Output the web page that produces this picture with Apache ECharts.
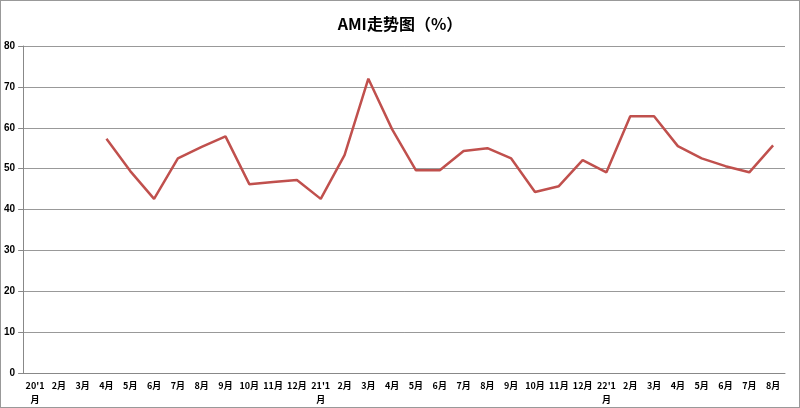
<!DOCTYPE html><html><head><meta charset="utf-8"><script src="https://cdn.jsdelivr.net/npm/echarts@6/dist/echarts.min.js"></script></head><body style="margin:0"><div id="c" style="width:800px;height:408px;box-sizing:border-box;border:1px solid #999"></div><script>
const categories=["20'1\n月","2月","3月","4月","5月","6月","7月","8月","9月","10月","11月","12月","21'1\n月","2月","3月","4月","5月","6月","7月","8月","9月","10月","11月","12月","22'1\n月","2月","3月","4月","5月","6月","7月","8月"];
const values=[null,null,null,57.3,49.4,42.6,52.5,55.3,57.9,46.2,46.7,47.2,42.6,53.3,72,59.6,49.6,49.6,54.3,55,52.5,44.3,45.7,52.1,49.1,62.8,62.8,55.5,52.5,50.6,49.1,55.7];
const c=echarts.init(document.getElementById('c'));
c.setOption({animation:false,
title:{text:'AMI走势图（%）',left:'center',top:10,textStyle:{fontSize:16,fontWeight:'bold',color:'#000',fontFamily:'Noto Sans CJK SC'}},
grid:{left:21,right:14,top:45,bottom:30},
xAxis:{type:'category',data:categories,boundaryGap:true,axisLine:{lineStyle:{color:'#888'}},axisTick:{lineStyle:{color:'#888'}},axisLabel:{interval:0,margin:6,fontSize:9,fontWeight:'bold',color:'#000',lineHeight:14,fontFamily:'Noto Sans CJK SC'}},
yAxis:{type:'value',min:0,max:80,interval:10,axisLine:{show:true,lineStyle:{color:'#888'}},axisTick:{show:true},axisLabel:{fontSize:10,fontWeight:'bold',color:'#000'},splitLine:{lineStyle:{color:'#999'}}},
series:[{type:'line',data:values,symbol:'none',lineStyle:{color:'#c0504d',width:2.5},itemStyle:{color:'#c0504d'}}]});
</script></body></html>
